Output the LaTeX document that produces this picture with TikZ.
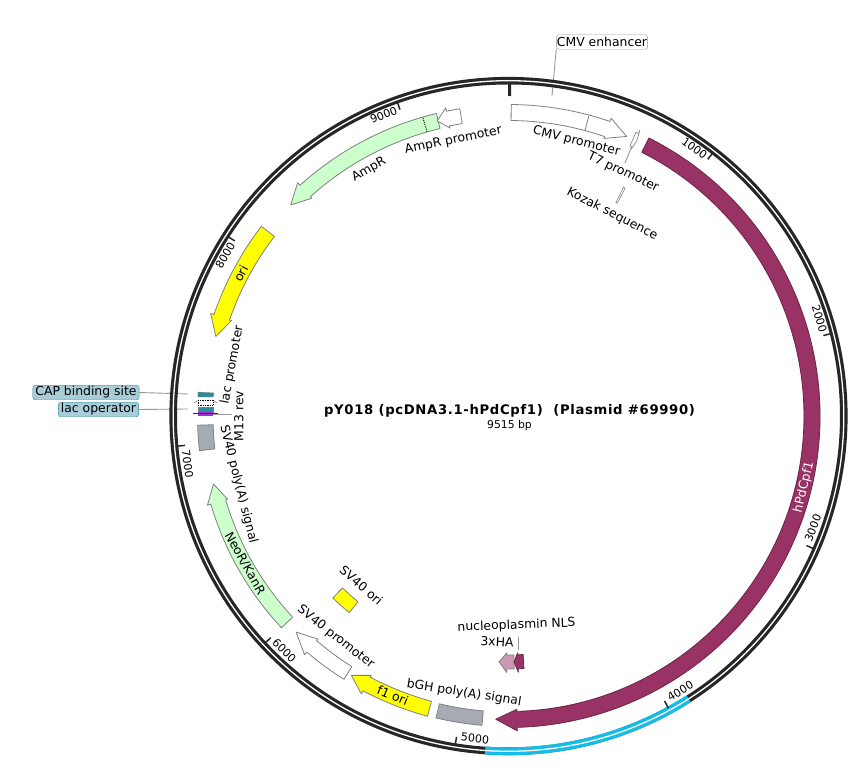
\documentclass[tikz,border=0pt]{standalone}
\usepackage{fontspec}
\setmainfont{DejaVu Sans}
\newfontfamily\titlefont[LetterSpace=5]{DejaVu Sans}
\newcommand{\lblfont}{\fontsize{12.4}{14}\selectfont}
\newcommand{\tckfont}{\fontsize{11}{13}\selectfont}
\definecolor{ringdark}{HTML}{262626}
\definecolor{ringcyan}{HTML}{14BCE8}
\definecolor{featpurple}{HTML}{993366}
\definecolor{featpale}{HTML}{CC99B3}
\definecolor{featgreen}{HTML}{CCFFCC}
\definecolor{featgray}{HTML}{A6ABB3}
\definecolor{featyellow}{HTML}{FFFF00}
\definecolor{featteal}{HTML}{2E8C9F}
\definecolor{featviolet}{HTML}{9933CC}
\definecolor{calloutblue}{HTML}{A9CDD8}
\tikzset{
  feat/.style={draw=black!50,line width=0.8pt,line join=round},
  leader/.style={draw=black!40,line width=0.9pt},
  callout/.style={rounded corners=2.5pt,inner xsep=2.5pt,inner ysep=0pt,minimum height=14.5pt,font=\lblfont},
  maplabel/.style={inner sep=0pt,anchor=base,font=\lblfont},
  px/.style={shift={(-508.5,416)},y=-1pt}
}
% angles run clockwise from the top of the circle
\newcommand{\featband}[5][]{%
  \draw[feat,#1] (90-#2:#5) arc[start angle=90-#2,end angle=90-#3,radius=#5] -- (90-#3:#4) arc[start angle=90-#3,end angle=90-#2,radius=#4] -- cycle;}
\newcommand{\featarrow}[6][]{%
  \draw[feat,#1] (90-#2:#6) arc[start angle=90-#2,end angle=90-#3,radius=#6] -- (90-#3:#6+3.5) -- (90-#4:{(#5+#6)/2}) -- (90-#3:#5-2) -- (90-#3:#5) arc[start angle=90-#3,end angle=90-#2,radius=#5] -- cycle;}
\newcommand{\cwlabel}[5][]{%
  \node[maplabel,rotate=-#4,#1] (#2) at (90-#4:#3) {#5};}
\newcommand{\ccwlabel}[5][]{%
  \node[maplabel,rotate=180-#4,#1] (#2) at (90-#4:#3) {#5};}
\newcommand{\ticktop}[2]{%
  \draw[line width=1.5pt,ringdark] (90-#1:325) -- (90-#1:333);
  \node[inner sep=0pt,anchor=base east,font=\tckfont,rotate=-#1+2.3] (tick#2) at (90-#1+0.5:322) {#2};}
\newcommand{\tickbot}[2]{%
  \draw[line width=1.5pt,ringdark] (90-#1:325) -- (90-#1:333);
  \node[inner sep=0pt,anchor=base west,font=\tckfont,rotate=180-#1+2.4] (tick#2) at (90-#1+0.8:328.5) {#2};}

\begin{document}
\begin{tikzpicture}[x=1pt,y=1pt]
  \useasboundingbox[fill=white] (-508.5,-367) rectangle (354.5,416);

  %leaders behind the ring
  \begin{scope}[px]
    \node[callout,draw=black!40,fill=white,inner xsep=0.5pt] (cmvenh) at (602,42) {CMV enhancer};
    \coordinate (cmvfoot) at (552,96);
    \draw[leader] (cmvenh.south west) -- (cmvfoot);
    \node[callout,draw=featteal,fill=calloutblue] (capsite) at (86,392.5) {CAP binding site};
    \node[callout,draw=featteal,fill=calloutblue] (lacop) at (98.5,409.5) {lac operator};
    \coordinate (capfoot) at (188,394);
    \coordinate (lacfoot) at (188,409);
    \draw[leader] (capsite.east) -- (capfoot);
    \draw[leader] (lacop.east) -- (lacfoot);
    \coordinate (t7foot) at (625,163);
    \coordinate (t7head) at (632,146);
    \draw[leader] (t7foot) -- (t7head);
    \coordinate (nlsfoot) at (518,650);
    \coordinate (nlshead) at (518,637);
    \draw[leader] (nlsfoot) -- (nlshead);
    \coordinate (m13foot) at (213,414);
    \coordinate (m13head) at (232,414);
    \draw[leader] (m13foot) -- (m13head);
  \end{scope}

  %ring
  \draw[ringdark,line width=7.6pt] (0,0) circle[radius=335.3];
  \draw[ringcyan,line width=8pt] (90-147.5:335.3) arc[start angle=90-147.5,end angle=90-184,radius=335.3];
  \draw[white,line width=1.3pt] (0,0) circle[radius=335.3];

  %ticks
  \draw[line width=3pt,ringdark] (90-0.2:320) -- (90-0.2:333);
  \ticktop{37.83}{1000}
  \ticktop{75.67}{2000}
  \tickbot{113.5}{3000}
  \tickbot{151.3}{4000}
  \tickbot{189.2}{5000}
  \tickbot{227}{6000}
  \tickbot{264.8}{7000}
  \ticktop{302.6}{8000}
  \ticktop{340.5}{9000}

  %features
  \featarrow[fill=white]{0.5}{19}{22.9}{295.5}{311.5}
  \draw[feat] (90-15:296) -- (90-15:311);
  \featarrow[fill=white,line width=0.6pt]{24.2}{24.7}{25}{296}{311}
  \featband[fill=white,line width=0.6pt]{26.7}{27.1}{239}{256}
  \featarrow[fill=featpurple,draw=featpurple!70!black]{26.8}{178.4}{182.4}{295.5}{311.5}
  \featarrow[fill=featgreen]{346.6}{317.9}{314.1}{295.5}{311}
  \draw[densely dotted,line width=0.9pt] (90-344:295.5) -- (90-344:311);
  \featarrow[fill=white]{351}{348.5}{346.4}{296}{311}
  \featarrow[fill=featyellow]{307.5}{289}{285.2}{295}{311.5}
  \featband[fill=featgray]{263.6}{268.3}{295.5}{311}
  \featarrow[fill=featgreen]{227}{253.5}{257}{295}{310.5}
  \featarrow[fill=white]{212}{220.5}{224.5}{295.5}{310.5}
  \featarrow[fill=featyellow]{195.1}{207.9}{211.2}{295.5}{311}
  \featband[fill=featgray]{184.9}{193.5}{296}{310.5}
  \featband[fill=featyellow]{219}{224}{239}{253}
  \featarrow[fill=featpale]{178.7}{180.4}{182.2}{239}{253}
  \featarrow[fill=featpurple,draw=featpurple!70!black]{176.5}{177.8}{178.7}{239}{253}

  %lac cluster
  \begin{scope}[px]
    \fill[featteal,draw=black!50,line width=0.4pt] (198,392) -- (214,393) -- (213,397) -- (198,397) -- cycle;
    \draw[black!60,line width=0.5pt] (194,403) -- (198,400.5) (217,403) -- (213,400.5);
    \draw[black,fill=white,densely dotted,line width=0.7pt] (198,400) rectangle (213,405);
    \fill[featteal,draw=black!50,line width=0.4pt] (198,407.5) rectangle (213,412);
    \fill[featviolet] (198,412) rectangle (213,416);
    \draw[black!80,line width=0.6pt] (193,413.5) -- (218,413.5);
  \end{scope}

  %labels
  \cwlabel{cmvprom}{279.5}{13.9}{CMV promoter}
  \cwlabel{t7prom}{266}{25.2}{T7 promoter}
  \cwlabel{kozak}{223.5}{27.2}{Kozak sequence}
  \cwlabel{ampprom}{278}{348.7}{AmpR promoter}
  \cwlabel{ampr}{280}{330.5}{AmpR}
  \cwlabel{ori}{298.5}{298}{ori}
  \cwlabel{lacprom}{277.5}{280.5}{lac promoter}
  \cwlabel{m13rev}{265}{270}{M13 rev}
  \ccwlabel{sv40pa}{282}{255.8}{SV40 poly(A) signal}
  \ccwlabel{neor}{306}{240.8}{NeoR/KanR}
  \ccwlabel{sv40prom}{284}{218}{SV40 promoter}
  \ccwlabel{sv40ori}{229}{221}{SV40 ori}
  \ccwlabel{fori}{307}{202.5}{f1 ori}
  \ccwlabel{bghpa}{284}{189.1}{bGH poly(A) signal}
  \ccwlabel{nls}{213}{177.8}{nucleoplasmin NLS}
  \ccwlabel{threeha}{230.5}{182.9}{3xHA}
  \ccwlabel[text=white]{hpdcpf}{307.5}{103.6}{hPdCpf1}

  %centre
  \begin{scope}[px]
    \node[font=\titlefont\fontsize{13.2}{15}\selectfont\bfseries] (plasmidname) at (509.5,411) {pY018 (pcDNA3.1-hPdCpf1)\ \ (Plasmid \#69990)};
    \node[font=\fontsize{10.8}{13}\selectfont] (plasmidlen) at (509.5,425.5) {9515 bp};
  \end{scope}
\end{tikzpicture}
\end{document}
